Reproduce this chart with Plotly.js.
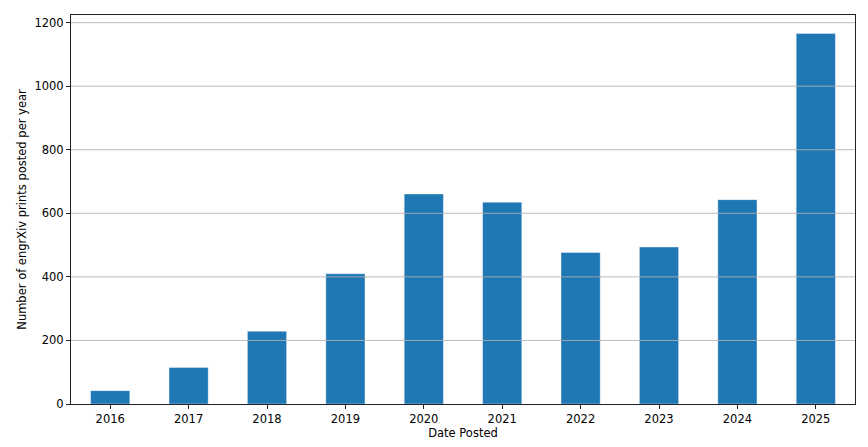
<!DOCTYPE html>
<html>
<head>
<meta charset="utf-8">
<script src="https://cdn.plot.ly/plotly-3.0.1.min.js"></script>
<style>
    html, body { margin: 0; padding: 0; background: #ffffff; }
    #chart { width: 868px; height: 447px; }
</style>
</head>
<body>
<div id="chart"></div>
<script>
// engrXiv preprints posted per year
const years = ["2016", "2017", "2018", "2019", "2020", "2021", "2022", "2023", "2024", "2025"];
const counts = [42, 115, 229, 410, 661, 635, 477, 494, 643, 1166];

const yTicks = [0, 200, 400, 600, 800, 1000, 1200];

const trace = {
    x: years,
    y: counts,
    type: "bar",
    width: 0.5,
    marker: {
        color: "#1f77b4",
        line: { color: "rgba(255,255,255,0.5)", width: 0.8 }
    },
    hoverinfo: "x+y"
};

// grid drawn over the bars, like matplotlib does here
const gridShapes = yTicks.slice(1).map(v => ({
    type: "line",
    xref: "paper",
    yref: "y",
    x0: 0,
    x1: 1,
    y0: v,
    y1: v,
    layer: "above",
    line: { color: "rgba(176,176,176,0.85)", width: 1 }
}));

const layout = {
    width: 868,
    height: 447,
    paper_bgcolor: "#ffffff",
    plot_bgcolor: "#ffffff",
    showlegend: false,
    font: {
        family: "DejaVu Sans, sans-serif",
        size: 11.5,
        color: "#000000"
    },
    margin: { t: 15, r: 13, b: 43, l: 71 },
    bargap: 0.5,
    shapes: gridShapes,
    xaxis: {
        type: "category",
        range: [-0.5, 9.5],
        showgrid: false,
        showline: true,
        linecolor: "#222222",
        linewidth: 1,
        mirror: true,
        ticks: "outside",
        ticklen: 4,
        tickcolor: "#222222",
        title: { text: "Date Posted", standoff: 4, font: { size: 11.5 } }
    },
    yaxis: {
        range: [0, 1224],
        tickvals: yTicks,
        ticktext: yTicks.map(String),
        showgrid: false,
        zeroline: false,
        showline: true,
        linecolor: "#222222",
        linewidth: 1,
        mirror: true,
        ticks: "outside",
        ticklen: 4,
        tickcolor: "#222222",
        title: { text: "Number of engrXiv prints posted per year", standoff: 5, font: { size: 11.5 } }
    }
};

Plotly.newPlot("chart", [trace], layout, { displayModeBar: false, staticPlot: true });
</script>
</body>
</html>
